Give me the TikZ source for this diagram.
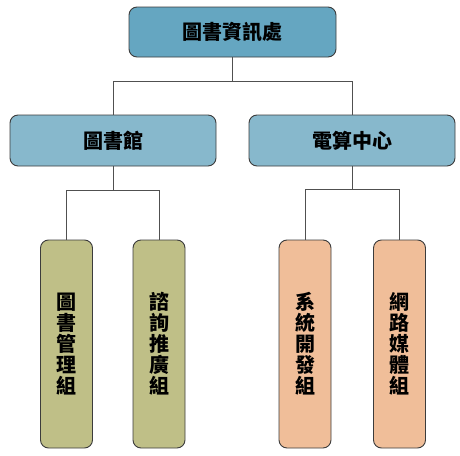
\documentclass[tikz,border=0pt]{standalone}
\usepackage{fontspec}
\usepackage{tikz}
\newfontfamily\cjk{Noto Sans CJK TC}
\definecolor{topblue}{HTML}{65A6C1}
\definecolor{midblue}{HTML}{87B8CC}
\definecolor{olive}{HTML}{BFBF87}
\definecolor{peach}{HTML}{F0BE99}
\definecolor{edge}{HTML}{3C3C3C}
\tikzset{
  unit/.style={draw=edge,line width=0.9pt,rounded corners=8pt,inner sep=0pt,
    font=\cjk\bfseries\fontsize{20}{21}\selectfont,align=center},
  head/.style={unit,fill=topblue,minimum width=207pt,minimum height=50pt},
  dept/.style={unit,fill=midblue,minimum width=206pt,minimum height=51pt},
  group/.style={unit,minimum width=52pt,minimum height=208pt},
  link/.style={draw=edge!90,line width=0.8pt}
}
\begin{document}
\begin{tikzpicture}[x=1pt,y=-1pt]
	\useasboundingbox (0,0) rectangle (460,455);
	% levels
	\node[head] (top) at (232.5,32) {圖書資訊處};
	\node[dept] (lib) at (113,140.5) {圖書館};
	\node[dept] (comp) at (352,140.5) {電算中心};
	\node[group,fill=olive] (libA) at (66.5,344) {圖\\書\\管\\理\\組};
	\node[group,fill=olive] (libB) at (159,344) {諮\\詢\\推\\廣\\組};
	\node[group,fill=peach] (compA) at (305,344) {系\\統\\開\\發\\組};
	\node[group,fill=peach] (compB) at (399.5,344) {網\\路\\媒\\體\\組};
	% connectors
	\draw[link] (top.south) -- ++(0,24) coordinate (t1) -| (lib.north);
	\draw[link] (t1) -| (comp.north);
	\draw[link] (lib.south) -- ++(0,24) coordinate (l1) -| (libA.north);
	\draw[link] (l1) -| (libB.north);
	\draw[link] (comp.south) -- ++(0,23) coordinate (c1) -| (compA.north);
	\draw[link] (c1) -| (compB.north);
\end{tikzpicture}
\end{document}
